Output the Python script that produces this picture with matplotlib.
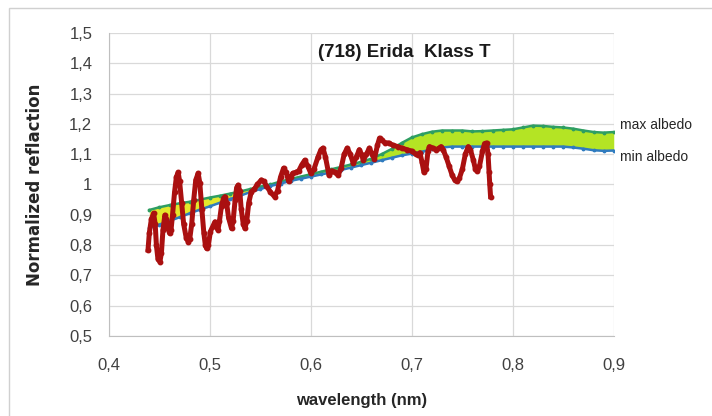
import numpy as np
import matplotlib.pyplot as plt
from matplotlib.ticker import FuncFormatter
from matplotlib.patches import Rectangle

# albedo envelope, sampled every 0.01 nm
wl_env = [0.44, 0.45, 0.46, 0.47, 0.48, 0.49, 0.50, 0.51, 0.52, 0.53, 0.54,
          0.55, 0.56, 0.57, 0.58, 0.59, 0.60, 0.61, 0.62, 0.63, 0.64, 0.65,
          0.66, 0.67, 0.68, 0.69, 0.70, 0.71, 0.72, 0.73, 0.74, 0.75, 0.76,
          0.77, 0.78, 0.79, 0.80, 0.81, 0.82, 0.83, 0.84, 0.85, 0.86, 0.87,
          0.88, 0.89, 0.90]
max_albedo = [0.916, 0.925, 0.932, 0.938, 0.943, 0.950, 0.957, 0.963, 0.970,
              0.977, 0.985, 0.993, 1.000, 1.010, 1.018, 1.026, 1.034, 1.042,
              1.050, 1.058, 1.066, 1.075, 1.085, 1.100, 1.117, 1.137, 1.155,
              1.166, 1.174, 1.178, 1.178, 1.178, 1.175, 1.176, 1.178, 1.180,
              1.182, 1.188, 1.194, 1.193, 1.190, 1.188, 1.184, 1.178, 1.173,
              1.171, 1.173]
min_albedo = [0.856, 0.868, 0.880, 0.892, 0.905, 0.917, 0.928, 0.940, 0.952,
              0.963, 0.975, 0.985, 0.995, 1.003, 1.012, 1.019, 1.026, 1.033,
              1.040, 1.048, 1.056, 1.064, 1.072, 1.080, 1.088, 1.096, 1.102,
              1.108, 1.116, 1.122, 1.125, 1.125, 1.125, 1.125, 1.125, 1.125,
              1.125, 1.125, 1.125, 1.125, 1.125, 1.125, 1.122, 1.118, 1.113,
              1.111, 1.112]

# measured spectrum of (718) Erida
wl_obs = [0.4387, 0.440, 0.442, 0.4442, 0.4458, 0.447, 0.4485, 0.4505, 0.452,
          0.4535, 0.4554, 0.457, 0.4585, 0.460, 0.4615, 0.463, 0.465, 0.4668,
          0.4686, 0.470, 0.472, 0.474, 0.4765, 0.4785, 0.480, 0.482, 0.484,
          0.486, 0.4884, 0.490, 0.492, 0.494, 0.4955, 0.4967, 0.4985, 0.5005,
          0.505, 0.5065, 0.508, 0.5095, 0.5115, 0.5135, 0.5149, 0.5165,
          0.5185, 0.5214, 0.523, 0.525, 0.5265, 0.528, 0.5295, 0.531, 0.533,
          0.5347, 0.5365, 0.5385, 0.541, 0.544, 0.547, 0.551, 0.5535, 0.556,
          0.560, 0.564, 0.567, 0.570, 0.573, 0.5755, 0.578, 0.580, 0.582,
          0.585, 0.588, 0.591, 0.594, 0.597, 0.600, 0.603, 0.607, 0.610,
          0.612, 0.6145, 0.618, 0.621, 0.624, 0.627, 0.630, 0.633, 0.636,
          0.639, 0.642, 0.645, 0.648, 0.650, 0.652, 0.655, 0.658, 0.6605,
          0.663, 0.666, 0.668, 0.670, 0.673, 0.677, 0.681, 0.686, 0.690,
          0.695, 0.700, 0.704, 0.706, 0.708, 0.710, 0.712, 0.714, 0.716,
          0.7175, 0.721, 0.724, 0.727, 0.729, 0.731, 0.734, 0.737, 0.740,
          0.7425, 0.7446, 0.747, 0.750, 0.753, 0.7559, 0.758, 0.761, 0.763,
          0.765, 0.767, 0.770, 0.772, 0.774, 0.7755, 0.7765, 0.7772, 0.778]
refl_obs = [0.784, 0.840, 0.885, 0.905, 0.870, 0.800, 0.755, 0.745, 0.775,
            0.850, 0.899, 0.885, 0.855, 0.839, 0.850, 0.900, 0.975, 1.025,
            1.040, 1.010, 0.940, 0.870, 0.825, 0.811, 0.820, 0.870, 0.950,
            1.015, 1.037, 1.005, 0.920, 0.840, 0.800, 0.789, 0.800, 0.845,
            0.877, 0.860, 0.850, 0.880, 0.930, 0.955, 0.960, 0.940, 0.890,
            0.855, 0.880, 0.950, 0.990, 0.998, 0.980, 0.920, 0.870, 0.855,
            0.880, 0.940, 0.976, 0.985, 1.000, 1.015, 1.010, 0.995, 0.975,
            0.960, 0.980, 1.025, 1.054, 1.040, 1.010, 1.025, 1.037, 1.040,
            1.045, 1.065, 1.080, 1.060, 1.037, 1.050, 1.090, 1.115, 1.120,
            1.090, 1.030, 1.045, 1.040, 1.030, 1.055, 1.100, 1.120, 1.100,
            1.070, 1.090, 1.115, 1.100, 1.080, 1.100, 1.120, 1.100, 1.085,
            1.130, 1.153, 1.148, 1.138, 1.137, 1.130, 1.125, 1.120, 1.115,
            1.110, 1.100, 1.098, 1.105, 1.075, 1.040, 1.050, 1.110, 1.125,
            1.120, 1.115, 1.120, 1.125, 1.115, 1.090, 1.060, 1.030, 1.015,
            1.010, 1.020, 1.050, 1.100, 1.125, 1.115, 1.080, 1.050, 1.043,
            1.060, 1.110, 1.135, 1.137, 1.100, 1.040, 1.000, 0.960]

x_ticks = [0.4, 0.5, 0.6, 0.7, 0.8, 0.9]
y_ticks = [0.5, 0.6, 0.7, 0.8, 0.9, 1.0, 1.1, 1.2, 1.3, 1.4, 1.5]

FONT = ['Liberation Sans', 'DejaVu Sans']


def comma_fmt(v, pos):
    return ('%g' % round(v, 2)).replace('.', ',')


fig = plt.figure(figsize=(7.12, 4.16), dpi=100)
ax = fig.add_axes([0.153, 0.192, 0.709, 0.729])

# envelope fill, yellow toward the blue end and lime elsewhere
wl = np.array(wl_env)
mx = np.array(max_albedo)
mn = np.array(min_albedo)
ax.fill_between(wl, mn, mx, where=wl <= 0.55, color='#e4e82c', lw=0, zorder=2)
ax.fill_between(wl, mn, mx, where=wl >= 0.55, color='#b4e424', lw=0, zorder=2)

ax.plot(wl_env, max_albedo, '-', marker='.', ms=3.5, color='#2e9e62', lw=1.8, zorder=3)
ax.plot(wl_env, min_albedo, '-', marker='.', ms=3.5, color='#2f7bbf', lw=1.8, zorder=3)
ax.plot(wl_obs, refl_obs, '-', marker='o', ms=3.2, color='#aa1010', lw=3.6,
        solid_joinstyle='round', zorder=4)

ax.set_xlim(0.4, 0.9)
ax.set_ylim(0.5, 1.5)
ax.set_xticks(x_ticks)
ax.set_yticks(y_ticks)
ax.xaxis.set_major_formatter(FuncFormatter(comma_fmt))
ax.yaxis.set_major_formatter(FuncFormatter(comma_fmt))
ax.grid(True, color='#d9d9d9', lw=0.9, zorder=0)
ax.set_axisbelow(True)
for side in ['top', 'right']:
    ax.spines[side].set_visible(False)
for side in ['left', 'bottom']:
    ax.spines[side].set_color('#bfbfbf')
ax.tick_params(length=0, labelsize=12, colors='#404040')
ax.tick_params(axis='x', pad=16)
ax.tick_params(axis='y', pad=12)
for lbl in ax.get_xticklabels() + ax.get_yticklabels():
    lbl.set_family(FONT)

ax.set_xlabel('wavelength (nm)', fontsize=12, fontweight='bold', family=FONT,
              color='#262626', labelpad=14)
ax.set_ylabel('Normalized reflaction', fontsize=12, fontweight='bold',
              color='#262626', labelpad=18)
ax.text(0.6926, 1.435, '(718) Erida  Klass T', fontsize=13.5, fontweight='bold',
        family=FONT, ha='center', va='center', color='#1a1a1a')

ax.text(0.906, 1.197, 'max albedo', fontsize=10, family=FONT, color='#262626',
        va='center', clip_on=False)
ax.text(0.906, 1.092, 'min albedo', fontsize=10, family=FONT, color='#262626',
        va='center', clip_on=False)

fig.patches.append(Rectangle((0.013, -0.01), 1.0, 0.99, transform=fig.transFigure,
                             fill=False, edgecolor='#d0d0d0', lw=1.0))

fig.savefig('out.png', dpi=100)
